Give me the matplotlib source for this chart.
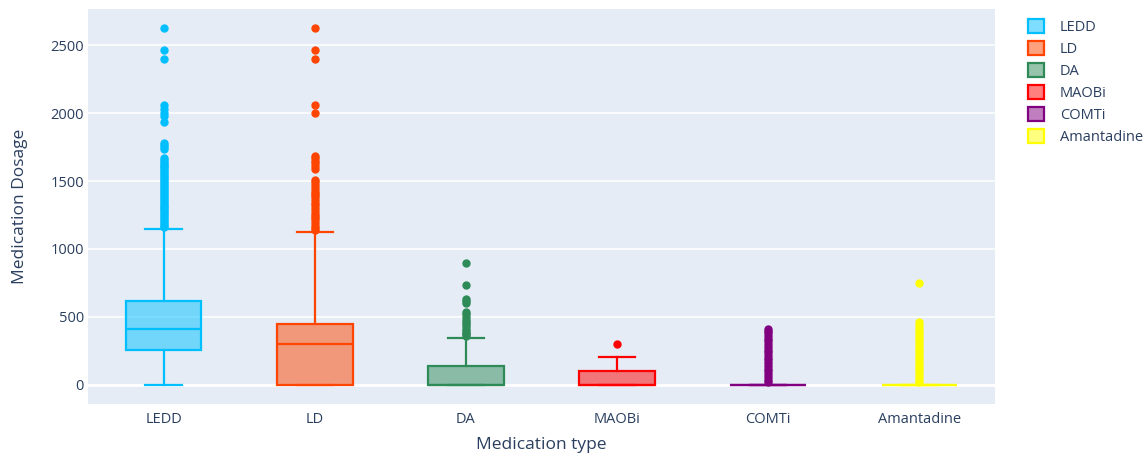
import matplotlib
matplotlib.use("Agg")
import matplotlib.pyplot as plt
from matplotlib.patches import Patch
from matplotlib.colors import to_rgba

plt.rcParams['font.family'] = ['Open Sans', 'DejaVu Sans']

categories = ["LEDD", "LD", "DA", "MAOBi", "COMTi", "Amantadine"]
colors = ["#00BFFF", "#FF4500", "#2E8B57", "#FF0000", "#800080", "#FFFF00"]

q1 = [257, 0, 0, 0, 0, 0]
medians = [412, 301, 0, 0, 0, 0]
q3 = [618, 450, 140, 100, 0, 0]
whisker_low = [0, 0, 0, 0, 0, 0]
whisker_high = [1150, 1125, 348, 202, 0, 0]

ledd_outliers = [2625, 2463, 2400, 2060, 2030, 2000, 1975, 1934, 1780, 1765,
                 1750, 1735, 1670, 1655, 1640, 1625, 1610, 1600, 1585, 1570,
                 1560, 1545, 1530, 1515, 1500, 1485, 1470, 1455, 1440, 1425,
                 1410, 1400, 1385, 1370, 1355, 1340, 1325, 1310, 1300, 1285,
                 1270, 1255, 1240, 1225, 1210, 1200, 1185, 1170, 1160]
ld_outliers = [2625, 2463, 2400, 2060, 2000, 1684, 1670, 1650, 1630, 1610,
               1590, 1505, 1490, 1470, 1450, 1430, 1410, 1395, 1380, 1360,
               1340, 1320, 1300, 1280, 1260, 1245, 1230, 1210, 1190, 1170,
               1155, 1140]
da_outliers = [897, 735, 632, 615, 600, 537, 520, 500, 480, 460, 445, 430,
               415, 400, 385, 372, 360]
maobi_outliers = [300]
comti_outliers = [20, 40, 60, 80, 100, 120, 140, 160, 180, 200, 220, 240,
                  260, 280, 300, 320, 340, 360, 380, 400, 410]
amantadine_outliers = [750, 460, 440, 420, 400, 380, 360, 340, 320, 300, 280,
                       260, 240, 220, 200, 180, 160, 140, 120, 100, 80, 60,
                       40, 20]
outliers = [ledd_outliers, ld_outliers, da_outliers, maobi_outliers,
            comti_outliers, amantadine_outliers]

text_color = "#2a3f5f"
bg_color = "#E5ECF6"

fig = plt.figure(figsize=(11.43, 4.53), dpi=100)
ax = fig.add_axes([88 / 1143, 1 - 404 / 453, (995 - 88) / 1143, (404 - 9) / 453])
ax.set_facecolor(bg_color)

for i, cat in enumerate(categories):
    c = colors[i]
    stats = [dict(label=cat, q1=q1[i], med=medians[i], q3=q3[i],
                  whislo=whisker_low[i], whishi=whisker_high[i],
                  fliers=outliers[i])]
    ax.bxp(stats, positions=[i], widths=0.5, capwidths=0.24,
           patch_artist=True, showfliers=True, manage_ticks=False,
           boxprops=dict(facecolor=to_rgba(c, 0.5), edgecolor=c, linewidth=1.6),
           medianprops=dict(color=c, linewidth=1.6),
           whiskerprops=dict(color=c, linewidth=1.6),
           capprops=dict(color=c, linewidth=1.6),
           flierprops=dict(marker='o', markerfacecolor=c, markeredgecolor=c,
                           markersize=5, linestyle='none'),
           zorder=3)

ax.set_xlim(-0.5, 5.5)
ax.set_ylim(-140, 2765)
ax.set_xticks(range(len(categories)))
ax.set_xticklabels(categories)
ax.set_yticks([0, 500, 1000, 1500, 2000, 2500])

ax.grid(axis='y', color='white', linewidth=1.1, zorder=0)
ax.axhline(0, color='white', linewidth=2, zorder=1)
ax.set_axisbelow(True)
for s in ax.spines.values():
    s.set_visible(False)
ax.tick_params(axis='both', length=0, labelsize=10.5, colors=text_color)
ax.tick_params(axis='x', pad=6)
ax.tick_params(axis='y', pad=3)

ax.set_xlabel("Medication type", fontsize=12.5, color=text_color, labelpad=7)
ax.set_ylabel("Medication Dosage", fontsize=12.5, color=text_color, labelpad=16)

handles = [Patch(facecolor=to_rgba(c, 0.5), edgecolor=c, linewidth=1.6)
           for c in colors]
leg = fig.legend(handles, categories, loc='upper left',
                 bbox_to_anchor=(1028 / 1143, 1 - 19 / 453),
                 frameon=False, fontsize=10.5, handlelength=1.1,
                 handleheight=1.1, handletextpad=1.1, labelspacing=0.42,
                 borderpad=0, borderaxespad=0)
for t in leg.get_texts():
    t.set_color(text_color)

fig.savefig("out.png", dpi=100, facecolor='white')
